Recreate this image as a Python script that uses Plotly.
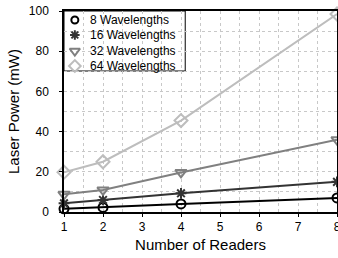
import plotly.graph_objects as go

readers = [1, 2, 4, 8]
series_names = ["8 Wavelengths", "16 Wavelengths", "32 Wavelengths", "64 Wavelengths"]
power_8 = [1.6, 2.3, 4.0, 7.0]
power_16 = [4.3, 6.0, 9.3, 15.0]
power_32 = [8.8, 11.0, 19.7, 36.0]
power_64 = [19.8, 25.0, 45.5, 98.5]
x_ticks = [1, 2, 3, 4, 5, 6, 7, 8]
y_ticks = [0, 20, 40, 60, 80, 100]

colors = ["#000000", "#333333", "#808080", "#bdbdbd"]
symbols = ["circle-open", "asterisk-open", "triangle-down-open", "diamond-open"]
sizes = [9, 9, 10, 10]
series = [power_8, power_16, power_32, power_64]

FONT = "Liberation Sans, Arial, Helvetica, sans-serif"

fig = go.Figure()
for name, vals, c, s, sz in zip(series_names, series, colors, symbols, sizes):
    fig.add_trace(go.Scatter(
        x=readers, y=vals, mode="lines+markers", name=name,
        line=dict(color=c, width=2),
        marker=dict(symbol=s, size=sz, color=c, line=dict(color=c, width=2)),
        showlegend=False, cliponaxis=False,
    ))

# manual legend (paper-like overlay axes)
FW, FH = 344, 258
L, R, T, B = 64, 341, 11, 212
W, H = R - L, B - T
def px(x):
    return (x - L) / W
def py(y):
    return (B - y) / H

row_y = [20, 35, 51, 66]
leg_sizes = [7, 8, 9, 9]
for name, c, s, sz, yy in zip(series_names, colors, symbols, leg_sizes, row_y):
    fig.add_trace(go.Scatter(
        x=[px(75)], y=[py(yy)], xaxis="x2", yaxis="y2", mode="markers",
        marker=dict(symbol=s, size=sz, color=c, line=dict(color=c, width=2)),
        showlegend=False, hoverinfo="skip",
    ))
    fig.add_annotation(x=px(88), y=py(yy), xref="paper", yref="paper",
                       text=name, showarrow=False, xanchor="left", yanchor="middle",
                       font=dict(family=FONT, size=12, color="#000"))

fig.add_shape(type="rect", xref="paper", yref="paper",
              x0=px(64), x1=px(187), y0=py(71), y1=py(11),
              line=dict(color="#000", width=1), fillcolor="white", layer="between")

fig.update_layout(
    width=FW, height=FH,
    margin=dict(l=L, r=FW - R, t=T, b=FH - B),
    paper_bgcolor="white", plot_bgcolor="white",
    font=dict(family=FONT, size=12, color="#000"),
    xaxis=dict(
        range=[1, 8], tickvals=x_ticks, ticks="outside", ticklen=3, tickcolor="#000",
        showline=True, linecolor="#000", linewidth=1.5, mirror=True,
        showgrid=True, gridcolor="#c8c8c8", griddash="dot", gridwidth=1,
        minor=dict(dtick=0.5, showgrid=True, gridcolor="#c8c8c8", griddash="dot", gridwidth=1),
        zeroline=False, tickfont=dict(size=12),
        title=dict(text="Number of Readers", font=dict(size=15), standoff=6),
    ),
    yaxis=dict(
        range=[0, 100], tickvals=y_ticks, ticks="outside", ticklen=3, tickcolor="#000",
        showline=True, linecolor="#000", linewidth=1.5, mirror=True,
        showgrid=True, gridcolor="#c8c8c8", griddash="dot", gridwidth=1,
        minor=dict(dtick=10, showgrid=True, gridcolor="#c8c8c8", griddash="dot", gridwidth=1),
        zeroline=False, tickfont=dict(size=12), ticklabelstandoff=8,
        title=dict(text="Laser Power (mW)", font=dict(size=15), standoff=6),
    ),
    xaxis2=dict(range=[0, 1], overlaying="x", visible=False, fixedrange=True),
    yaxis2=dict(range=[0, 1], overlaying="y", visible=False, fixedrange=True),
)

fig.write_html(
    "out.html",
    config={"displayModeBar": False},
    post_script="document.body.style.margin='0';document.body.style.overflow='hidden';",
)
